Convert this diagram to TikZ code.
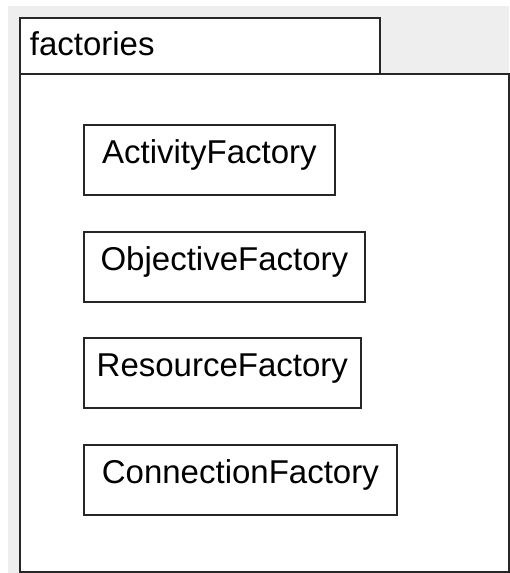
\documentclass[tikz,border=0pt]{standalone}
\usepackage{fontspec}
\setmainfont{Liberation Sans}
\usepackage{tikz}
\usetikzlibrary{positioning,calc}
\definecolor{PaneGray}{RGB}{238,238,238}
\tikzset{
	pkgline/.style={draw=black!85,line width=1.7pt},
	tab/.style={pkgline,fill=white,anchor=north west,minimum width=360pt,minimum height=56pt,
		inner xsep=10pt,inner ysep=15pt,text height=23pt,text depth=3pt,
		text width=340pt,align=left,font=\fontsize{33}{38}\selectfont},
	body/.style={pkgline,fill=white,anchor=north west,minimum width=489pt,minimum height=498pt},
	cls/.style={pkgline,fill=white,anchor=north west,inner xsep=0pt,inner ysep=16pt,
		text height=23pt,text depth=15pt,align=center,font=\fontsize{33}{38}\selectfont},
	boxw/.style={text width=#1},
}

\begin{document}
\begin{tikzpicture}[x=1pt,y=-1pt]
			\useasboundingbox[fill=white] (0,0) rectangle (509,573);
			\fill[PaneGray] (8,6) rectangle (509,573);
			\node[body] (pkg) at (19,73) {};
			\node[tab] (tab) at (19,17) {factories};
			\node[cls,boxw=251pt] (act) at (83,124) {ActivityFactory};
			\node[cls,boxw=281pt] (obj) at (83,231) {ObjectiveFactory};
			\node[cls,boxw=277pt] (res) at (83,337) {ResourceFactory};
			\node[cls,boxw=313pt] (con) at (83,444) {ConnectionFactory};
		\end{tikzpicture}
\end{document}
